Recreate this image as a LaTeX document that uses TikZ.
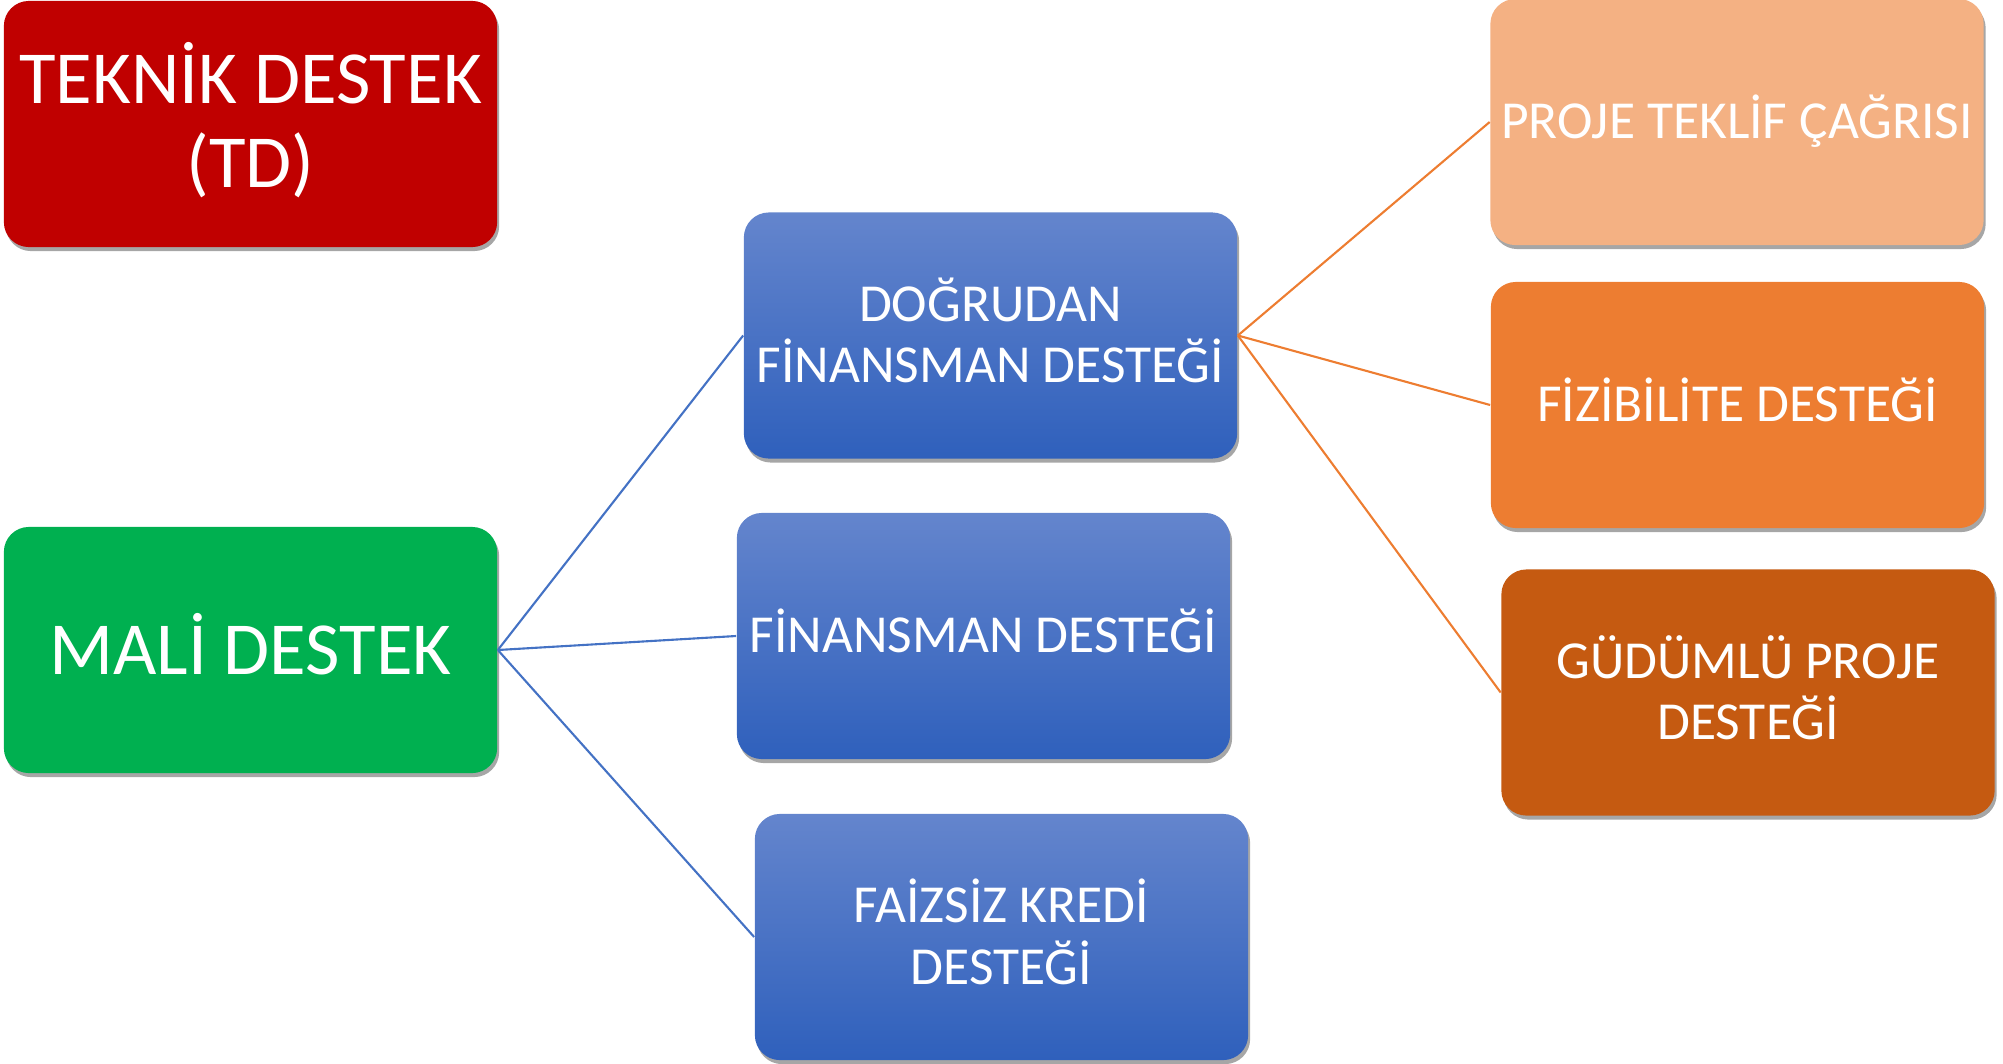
\documentclass[tikz,border=0pt]{standalone}
\usepackage{fontspec}
\setmainfont{Carlito}
\usetikzlibrary{shadows}

\definecolor{tdred}{HTML}{C00000}
\definecolor{maligreen}{HTML}{00B050}
\definecolor{bluetop}{HTML}{6485CD}
\definecolor{bluebot}{HTML}{2F60BC}
\definecolor{blueline}{HTML}{4472C4}
\definecolor{orlight}{HTML}{F4B183}
\definecolor{ormid}{HTML}{ED7D31}
\definecolor{ordark}{HTML}{C55A11}

\begin{document}
\begin{tikzpicture}[x=0.01cm,y=-0.01cm,
    box/.style={minimum width=4.93cm,minimum height=2.46cm,inner sep=0pt,
        rounded corners=0.25cm,align=center,text=white,
        drop shadow={shadow xshift=0.02cm,shadow yshift=-0.04cm,opacity=0.35,fill=black}},
    big/.style={font=\fontsize{21.3}{23.8}\selectfont,text depth=3.6pt},
    small/.style={font=\fontsize{15.2}{17.4}\selectfont,text depth=3pt},
    bluebox/.style={box,small,top color=bluetop,bottom color=bluebot},
    blueconn/.style={draw=blueline,line width=0.6pt},
    orconn/.style={draw=ormid,line width=0.6pt}]
\useasboundingbox (0,0) rectangle (2003,1063);

% left column
\node[box,big,fill=tdred,text depth=5.3pt] (td) at (250.5,124) {TEKNİK DESTEK\\(TD)};
\node[box,big,fill=maligreen] (mali) at (250.5,650) {MALİ DESTEK};

% middle column
\node[bluebox] (dogrudan) at (990.5,335.5) {DOĞRUDAN\\FİNANSMAN DESTEĞİ};
\node[bluebox] (finansman) at (983.5,636) {FİNANSMAN DESTEĞİ};
\node[bluebox] (faizsiz) at (1001.5,937) {FAİZSİZ KREDİ\\DESTEĞİ};

% right column
\node[box,small,fill=orlight] (teklif) at (1737,122) {PROJE TEKLİF ÇAĞRISI};
\node[box,small,fill=ormid] (fizibilite) at (1737.5,405) {FİZİBİLİTE DESTEĞİ};
\node[box,small,fill=ordark] (gudumlu) at (1748,692.5) {GÜDÜMLÜ PROJE\\DESTEĞİ};

\draw[blueconn] (mali.east) -- (dogrudan.west);
\draw[blueconn] (mali.east) -- (finansman.west);
\draw[blueconn] (mali.east) -- (faizsiz.west);
\draw[orconn] (dogrudan.east) -- (teklif.west);
\draw[orconn] (dogrudan.east) -- (fizibilite.west);
\draw[orconn] (dogrudan.east) -- (gudumlu.west);
\end{tikzpicture}
\end{document}
